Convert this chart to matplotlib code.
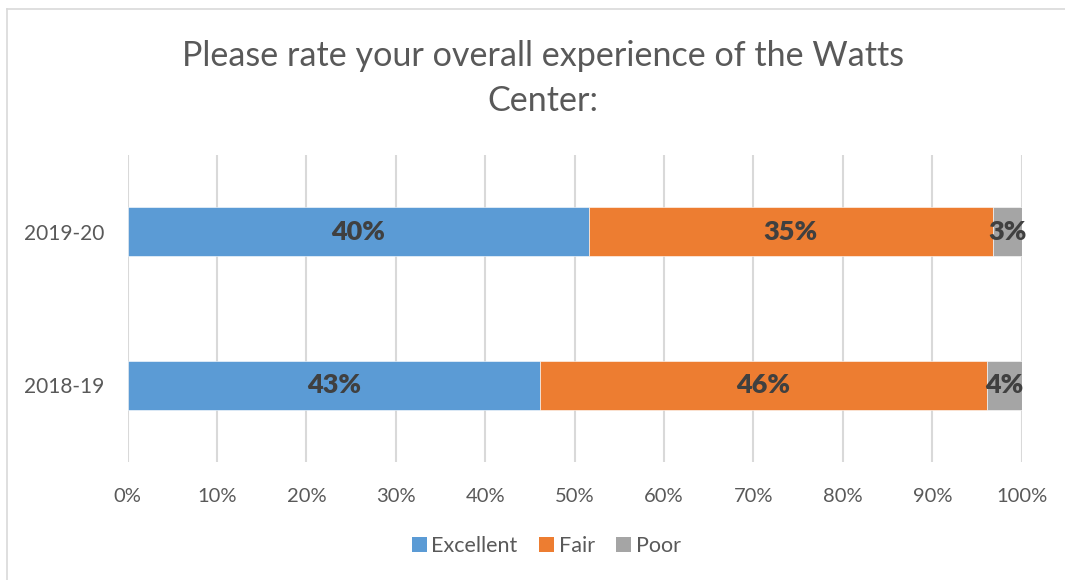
import matplotlib
matplotlib.use("Agg")
import matplotlib.pyplot as plt
from matplotlib.patches import Patch
from matplotlib.lines import Line2D
import numpy as np

plt.rcParams['font.family'] = ['Lato', 'DejaVu Sans']

# Data
categories = ["2018-19", "2019-20"]
series_names = ["Excellent", "Fair", "Poor"]
excellent = [42.6, 40.4]
fair = [46.25, 35.4]
poor = [3.56, 2.55]
colors = ["#5B9BD5", "#ED7D31", "#A5A5A5"]
x_ticks = [0, 10, 20, 30, 40, 50, 60, 70, 80, 90, 100]
title = "Please rate your overall experience of the Watts\nCenter:"

fig = plt.figure(figsize=(10.65, 5.8), dpi=100)
ax = fig.add_axes([0.1199, 0.2034, 0.9593 - 0.1199, 0.7328 - 0.2034])

series = [excellent, fair, poor]
totals = np.sum(np.array(series), axis=0)
shares = [np.array(s) / totals * 100 for s in series]

y = np.arange(len(categories))
left = np.zeros(len(categories))
for vals, sh, col, name in zip(series, shares, colors, series_names):
    ax.barh(y, sh, left=left, height=0.32, color=col, edgecolor='white',
            linewidth=0.4, zorder=3, label=name)
    for yi, l, w, v in zip(y, left, sh, vals):
        ax.text(l + w / 2, yi, f"{int(np.floor(v + 0.5))}%", ha='center', va='center',
                fontsize=19.5, fontweight='heavy', color='#404040', zorder=4)
    left = left + sh

ax.set_xlim(0, 100)
ax.set_ylim(-0.5, 1.5)
ax.set_xticks(x_ticks)
ax.set_xticklabels([f"{t}%" for t in x_ticks])
ax.set_yticks(y)
ax.set_yticklabels(categories)
ax.tick_params(axis='x', length=0, pad=19, labelsize=14.5, labelcolor='#595959')
ax.tick_params(axis='y', length=0, pad=17, labelsize=15, labelcolor='#595959')
ax.grid(axis='x', color='#D9D9D9', linewidth=1.5, zorder=0)
ax.set_axisbelow(True)
for s in ax.spines.values():
    s.set_visible(False)

fig.text(0.51, 0.864, title, ha='center', va='center', fontsize=24.6,
         color='#595959', linespacing=1.5)

handles = [Patch(facecolor=c, edgecolor='none') for c in colors]
fig.legend(handles, series_names, loc='center', bbox_to_anchor=(0.513, 0.0586),
           ncol=3, frameon=False, fontsize=15.5, labelcolor='#595959',
           handlelength=0.7, handleheight=0.7, handletextpad=0.2,
           columnspacing=1.0)

# chart border (top and left visible)
fig.add_artist(Line2D([7 / 1065, 7 / 1065], [0, 1 - 9 / 580], color='#D9D9D9', linewidth=1.2))
fig.add_artist(Line2D([7 / 1065, 1], [1 - 9 / 580, 1 - 9 / 580], color='#D9D9D9', linewidth=1.2))

fig.savefig("out.png", dpi=100, facecolor='white')
